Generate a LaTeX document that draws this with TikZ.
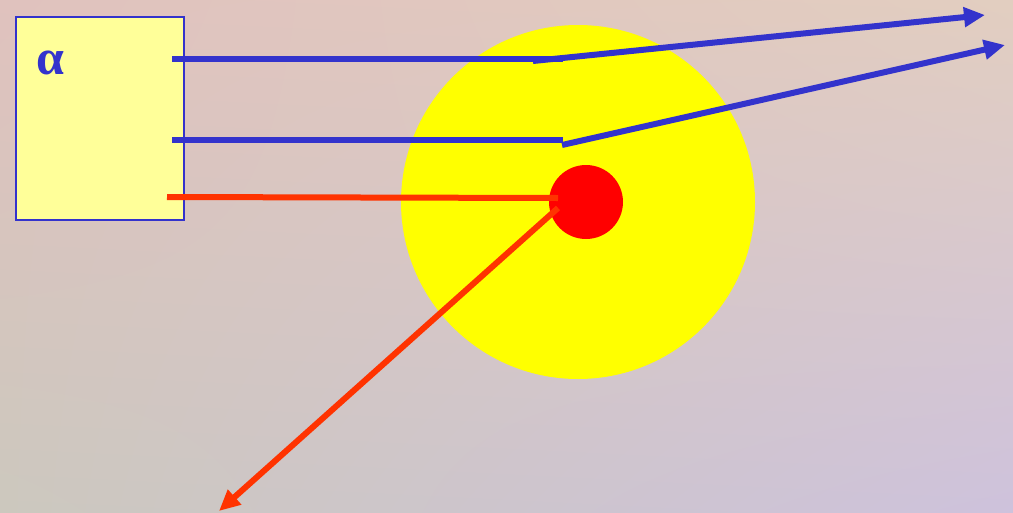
\documentclass[tikz,border=0pt]{standalone}
\usepackage{fontspec}
\newfontfamily\grk{Liberation Serif}
\usetikzlibrary{arrows.meta,shadings}
\definecolor{bluel}{RGB}{51,51,204}
\definecolor{boxfill}{RGB}{255,255,153}
\definecolor{redl}{RGB}{255,51,0}
\definecolor{sunyellow}{RGB}{255,255,0}
\definecolor{corered}{RGB}{255,0,0}
\definecolor{bgtl}{RGB}{224,194,190}
\definecolor{bgtr}{RGB}{226,206,192}
\definecolor{bgbl}{RGB}{204,200,190}
\definecolor{bgbr}{RGB}{206,194,220}
\tikzset{
  bline/.style={draw=bluel,line width=6pt},
  rline/.style={draw=redl,line width=6pt},
  tip/.style={-{Triangle[length=21pt,width=19pt]}}
}
\begin{document}
\begin{tikzpicture}[x=1pt,y=-1pt]
\useasboundingbox (0,0) rectangle (1013,512);
\shade[upper left=bgtl,upper right=bgtr,lower left=bgbl,lower right=bgbr] (0,0) rectangle (1013,512);
\node[draw=bluel,line width=2pt,fill=boxfill,minimum width=168pt,minimum height=203pt,inner sep=0pt] (box) at (99.5,118) {};
\node[text=bluel,font=\grk\bfseries\fontsize{50}{50}\selectfont,inner sep=0pt] (alpha) at (50,63) {α};
\fill[sunyellow] (578,202) circle (177);
\node[circle,fill=corered,minimum size=74pt,inner sep=0pt] (core) at (586,202) {};
\coordinate (a1) at (172,59);
\coordinate (b1) at (563,59);
\coordinate (c1) at (533,61);
\coordinate (d1) at (985,15);
\coordinate (a2) at (172,140);
\coordinate (b2) at (563,140);
\coordinate (c2) at (562,145);
\coordinate (d2) at (1005,45);
\coordinate (a3) at (167,197);
\coordinate (b3) at (558,198);
\coordinate (c3) at (558,208);
\coordinate (d3) at (219,511);
\draw[bline] (a1) -- (b1);
\draw[bline,tip] (c1) -- (d1);
\draw[bline] (a2) -- (b2);
\draw[bline,tip] (c2) -- (d2);
\draw[rline] (a3) -- (b3);
\draw[rline,tip] (c3) -- (d3);
\end{tikzpicture}
\end{document}
